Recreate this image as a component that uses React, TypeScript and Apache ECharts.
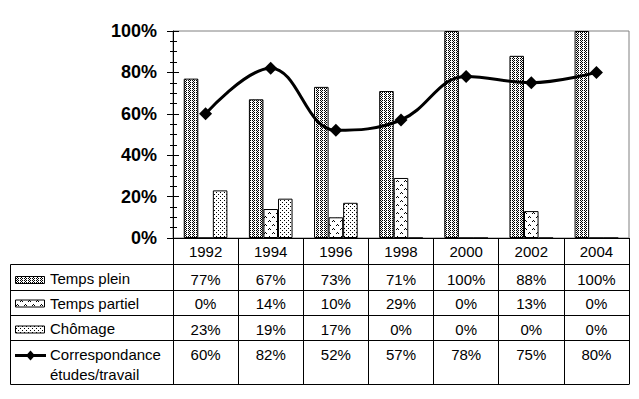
import React, { useEffect, useRef } from "react";
import * as echarts from "echarts";

const years = ["1992", "1994", "1996", "1998", "2000", "2002", "2004"];
const tempsPlein = [77, 67, 73, 71, 100, 88, 100];
const tempsPartiel = [0, 14, 10, 29, 0, 13, 0];
const chomage = [23, 19, 17, 0, 0, 0, 0];
const correspondance = [60, 82, 52, 57, 78, 75, 80];
const rowNames = ["Temps plein", "Temps partiel", "Chômage"];
const lineName = ["Correspondance", "études/travail"];
const yTicks = [0, 20, 40, 60, 80, 100];

const FONT = "'Liberation Sans', Arial, sans-serif";

function makePattern(w: number, h: number, pixels: number[][]) {
  const c = document.createElement("canvas");
  c.width = w;
  c.height = h;
  const ctx = c.getContext("2d")!;
  ctx.fillStyle = "#ffffff";
  ctx.fillRect(0, 0, w, h);
  ctx.fillStyle = "#000000";
  pixels.forEach(([x, y]) => ctx.fillRect(x, y, 1, 1));
  return { image: c, repeat: "repeat", imageWidth: w, imageHeight: h } as any;
}

export default function App() {
  const ref = useRef<HTMLDivElement>(null);
  useEffect(() => {
    if (!ref.current) return;
    const chart = echarts.init(ref.current, undefined, { renderer: "svg" });

    const pPlein = makePattern(4, 2, [[0, 0], [2, 0], [1, 1]]);
    const pPartiel = makePattern(8, 8, [
      [0, 1], [1, 0], [2, 1],
      [4, 5], [5, 4], [6, 5],
    ]);
    const pChom = makePattern(4, 4, [[0, 0], [2, 2]]);
    const patterns = [pPlein, pPartiel, pChom];

    const gridLeft = 173;
    const gridTop = 31;
    const gridW = 456;
    const gridH = 207;
    const axisY = gridTop + gridH;
    const tableBottom = 384.5;
    const rowLines = [264.5, 290.5, 315.5, 340.5, 384.5];
    const valueRows = [tempsPlein, tempsPartiel, chomage, correspondance];
    const rowOffsets = [33.7, 57.7, 83.7, 109];
    const keyCenters = [280, 303.5, 329.5];
    const textCenters = [278.5, 303, 328.5];

    const graphics: any[] = [];
    rowLines.forEach((y) => {
      graphics.push({
        type: "line",
        shape: { x1: 10.5, y1: y, x2: gridLeft + gridW + 0.5, y2: y },
        style: { stroke: "#000", lineWidth: 1 },
      });
    });
    graphics.push({
      type: "line",
      shape: { x1: 10.5, y1: 264.5, x2: 10.5, y2: tableBottom },
      style: { stroke: "#000", lineWidth: 1 },
    });
    rowNames.forEach((name, i) => {
      graphics.push({
        type: "rect",
        shape: { x: 15.5, y: keyCenters[i] - 3.5, width: 29, height: 7 },
        style: { fill: patterns[i], stroke: "#000", lineWidth: 1 },
      });
      graphics.push({
        type: "text",
        x: 50,
        y: textCenters[i],
        style: {
          text: name,
          font: `15px ${FONT}`,
          fill: "#000",
          textVerticalAlign: "middle",
          textAlign: "left",
        },
      });
    });
    graphics.push({
      type: "line",
      shape: { x1: 15, y1: 355.5, x2: 46, y2: 355.5 },
      style: { stroke: "#000", lineWidth: 3 },
    });
    graphics.push({
      type: "polygon",
      shape: { points: [[30.5, 350.5], [35, 355.5], [30.5, 360.5], [26, 355.5]] },
      style: { fill: "#000" },
    });
    lineName.forEach((t, i) => {
      graphics.push({
        type: "text",
        x: 50,
        y: 354.5 + i * 20,
        style: {
          text: t,
          font: `15px ${FONT}`,
          fill: "#000",
          textVerticalAlign: "middle",
          textAlign: "left",
        },
      });
    });

    const valueAxes = valueRows.map((arr, i) => ({
      type: "category",
      gridIndex: 0,
      position: "bottom",
      offset: rowOffsets[i],
      data: arr.map((v) => `${v}%`),
      axisLine: { show: false },
      axisTick: { show: false },
      axisLabel: {
        interval: 0,
        margin: 0,
        color: "#000",
        fontFamily: FONT,
        fontSize: 15,
        lineHeight: 15,
      },
    }));

    const barSeries = [tempsPlein, tempsPartiel, chomage].map((arr, i) => ({
      name: rowNames[i],
      type: "bar",
      xAxisIndex: 0,
      yAxisIndex: 0,
      data: arr,
      barGap: "0%",
      barCategoryGap: "33%",
      itemStyle: { color: patterns[i], borderColor: "#000", borderWidth: 1 },
    }));

    chart.setOption({
      animation: false,
      backgroundColor: "#fff",
      grid: {
        left: gridLeft,
        top: gridTop,
        width: gridW,
        height: gridH,
        show: true,
        borderColor: "#808080",
        borderWidth: 1,
        backgroundColor: "transparent",
      },
      xAxis: [
        {
          type: "category",
          data: years,
          position: "bottom",
          axisLine: { show: true, lineStyle: { color: "#000", width: 1 } },
          axisTick: {
            show: true,
            interval: 0,
            length: tableBottom - axisY - 0.5,
            lineStyle: { color: "#000", width: 1 },
          },
          axisLabel: {
            interval: 0,
            margin: 6.2,
            color: "#000",
            fontFamily: FONT,
            fontSize: 15,
            lineHeight: 15,
          },
          splitLine: { show: false },
        },
        ...valueAxes,
      ],
      yAxis: [
        {
          type: "value",
          min: 0,
          max: 100,
          interval: 20,
          position: "left",
          axisLine: { show: true, lineStyle: { color: "#000", width: 1 } },
          axisTick: { show: true, length: 6, lineStyle: { color: "#000" } },
          minorTick: { show: true, splitNumber: 4, length: 3, lineStyle: { color: "#000" } },
          splitLine: { show: false },
          axisLabel: {
            margin: 16,
            color: "#000",
            fontFamily: FONT,
            fontWeight: "bold",
            fontSize: 18,
            formatter: (v: number) => (yTicks.includes(v) ? `${v}%` : ""),
          },
        },
        {
          type: "value",
          min: 0,
          max: 100,
          interval: 20,
          position: "left",
          axisLine: { show: false },
          axisTick: { show: true, inside: true, length: 6, lineStyle: { color: "#000" } },
          minorTick: { show: true, splitNumber: 4, length: 4, lineStyle: { color: "#000" } },
          splitLine: { show: false },
          axisLabel: { show: false },
        },
      ],
      series: [
        ...barSeries,
        {
          name: lineName.join(" "),
          type: "line",
          xAxisIndex: 0,
          yAxisIndex: 0,
          data: correspondance,
          smooth: 0.4,
          symbol: "diamond",
          symbolSize: 13,
          z: 5,
          lineStyle: { color: "#000", width: 3 },
          itemStyle: { color: "#000" },
        },
      ],
      graphic: graphics,
    });

    return () => chart.dispose();
  }, []);

  return (
    <div
      ref={ref}
      style={{ position: "fixed", left: 0, top: 0, width: 639, height: 399, background: "#fff" }}
    />
  );
}
